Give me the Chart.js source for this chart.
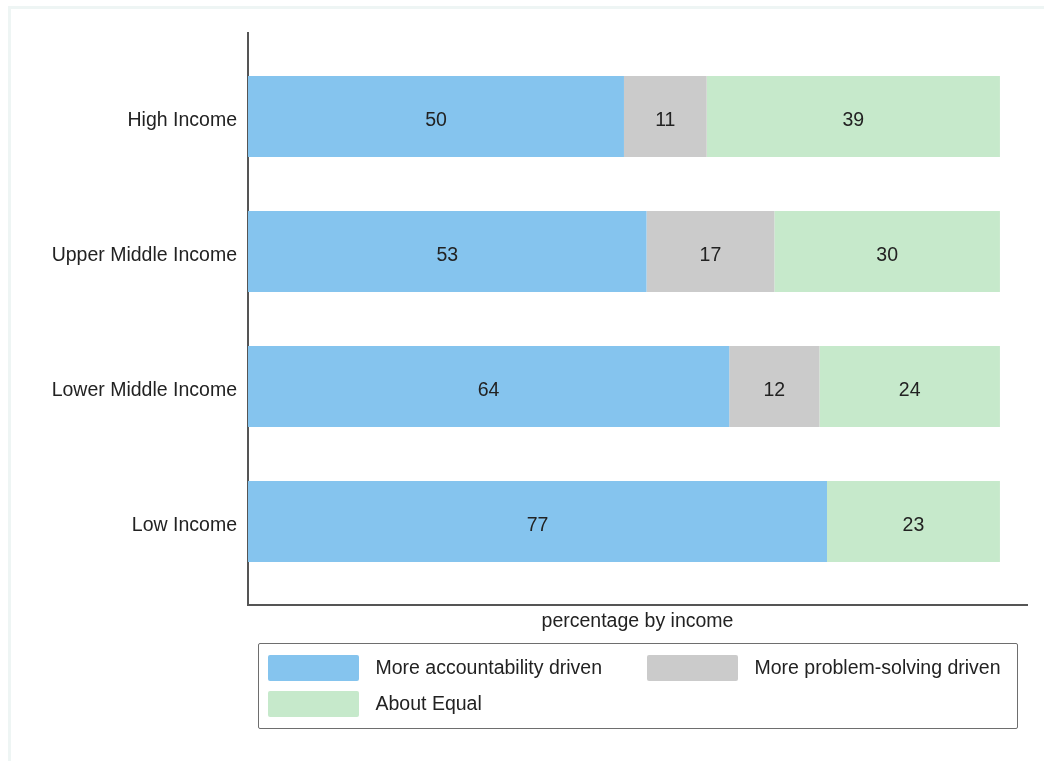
<!DOCTYPE html>
<html>
<head>
<meta charset="utf-8">
<title>Accountability vs problem-solving by income</title>
<script src="https://cdn.jsdelivr.net/npm/chart.js@4.4.1/dist/chart.umd.min.js"></script>
<style>
  body { margin: 0; background: #fff; font-family: "Liberation Sans", Arial, sans-serif; color: #222; }
  #frame {
    position: absolute; left: 8px; top: 6px; right: 0; bottom: 0;
    border-left: 3px solid #eef5f4; border-top: 3px solid #eef5f4;
  }
  #incomeChart { position: absolute; left: 0; top: 0; }
  #legend {
    position: absolute; left: 258px; top: 643px; width: 760px; height: 86px;
    box-sizing: border-box; border: 1.5px solid #6e6e6e; border-radius: 2px;
    padding: 10.5px 0 0 8.5px;
    display: grid; grid-template-columns: 379px 1fr; row-gap: 10px; align-content: start;
  }
  .item { display: flex; align-items: center; height: 26px; font-size: 19.5px; }
  .swatch { width: 91px; height: 26px; border-radius: 2px; margin-right: 17px; flex: none; }
</style>
</head>
<body>
<div id="frame"></div>
<canvas id="incomeChart" width="1044" height="761"></canvas>
<div id="legend"></div>
<script>
// income groups, top to bottom
const categories = ['High Income', 'Upper Middle Income', 'Lower Middle Income', 'Low Income'];

// percentage of respondents in each group
const accountability = [50, 53, 64, 77];
const problemSolving = [11, 17, 12, 0];
const aboutEqual = [39, 30, 24, 23];

const seriesNames = ['More accountability driven', 'More problem-solving driven', 'About Equal'];
const seriesColors = ['#85c4ee', '#cbcbcb', '#c6e9cb'];

Chart.defaults.font.family = '"Liberation Sans", Arial, sans-serif';
Chart.defaults.font.size = 19.5;
Chart.defaults.color = '#222';

function toPoints(values) {
  return values.map((v, i) => ({ x: v, y: i }));
}

// writes the value in the middle of each segment
const barValueLabels = {
  id: 'barValueLabels',
  afterDatasetsDraw(chart) {
    const ctx = chart.ctx;
    ctx.save();
    ctx.font = '19.5px "Liberation Sans", Arial, sans-serif';
    ctx.fillStyle = '#222';
    ctx.textAlign = 'center';
    ctx.textBaseline = 'middle';
    chart.data.datasets.forEach((ds, i) => {
      chart.getDatasetMeta(i).data.forEach((bar, j) => {
        const v = ds.data[j].x;
        if (!v) return;
        const p = bar.getProps(['x', 'y', 'base'], true);
        ctx.fillText(v, (p.x + p.base) / 2, p.y + 4);
      });
    });
    ctx.restore();
  }
};

// legend lives in a box under the plot
const htmlLegend = {
  id: 'htmlLegend',
  afterUpdate(chart) {
    const box = document.getElementById('legend');
    box.innerHTML = '';
    chart.data.datasets.forEach(ds => {
      const item = document.createElement('div');
      item.className = 'item';
      const sw = document.createElement('span');
      sw.className = 'swatch';
      sw.style.background = ds.backgroundColor;
      item.appendChild(sw);
      item.appendChild(document.createTextNode(ds.label));
      box.appendChild(item);
    });
  }
};

const ctx = document.getElementById('incomeChart').getContext('2d');
const incomeChart = new Chart(ctx, {
  type: 'bar',
  data: {
    datasets: [
      { label: seriesNames[0], data: toPoints(accountability), backgroundColor: seriesColors[0] },
      { label: seriesNames[1], data: toPoints(problemSolving), backgroundColor: seriesColors[1] },
      { label: seriesNames[2], data: toPoints(aboutEqual), backgroundColor: seriesColors[2] }
    ]
  },
  options: {
    indexAxis: 'y',
    responsive: false,
    animation: false,
    devicePixelRatio: 1,
    barPercentage: 0.6,
    categoryPercentage: 1,
    borderWidth: 0,
    layout: { padding: { left: 48, right: 17, top: 33, bottom: 126 } },
    plugins: {
      legend: { display: false },
      tooltip: { enabled: false }
    },
    scales: {
      x: {
        stacked: true,
        min: 0,
        max: 103.6,
        grid: { display: false, drawTicks: false },
        border: { display: true, color: '#555', width: 2 },
        ticks: { display: false },
        title: { display: true, text: 'percentage by income', padding: { top: 0, bottom: 2 } },
        afterFit(scale) { scale.height = 30; }
      },
      y: {
        type: 'linear',
        stacked: true,
        reverse: true,
        offset: false,
        min: -0.618,
        max: 3.618,
        grid: { display: false, drawTicks: false, offset: false },
        border: { display: true, color: '#555', width: 2 },
        ticks: {
          stepSize: 1,
          includeBounds: false,
          padding: 11,
          labelOffset: 4,
          callback: v => categories[v] ?? ''
        },
        afterFit(scale) { scale.width = 200; }
      }
    }
  },
  plugins: [barValueLabels, htmlLegend]
});
</script>
</body>
</html>
